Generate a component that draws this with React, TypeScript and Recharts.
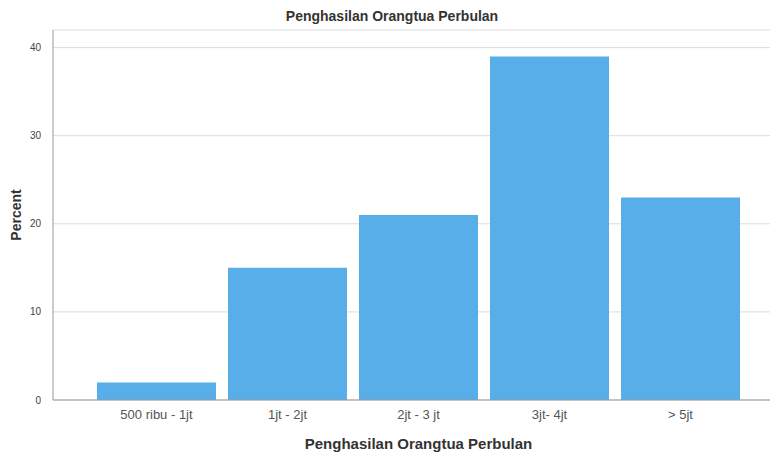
import { Bar, BarChart, CartesianGrid, XAxis, YAxis } from "recharts";

const categories = ["500 ribu - 1jt", "1jt - 2jt", "2jt - 3 jt", "3jt- 4jt", "> 5jt"];
const percents = [2, 15, 21, 39, 23];
const yTicks = [0, 10, 20, 30, 40];

const data = categories.map((name, i) => ({ name, percent: percents[i] }));

const font = "'Liberation Sans', Arial, sans-serif";

export default function App() {
  return (
    <div style={{ position: "absolute", left: 0, top: 0, width: 770, height: 456, background: "#fff", fontFamily: font }}>
      <div
        style={{
          position: "absolute",
          top: 8,
          left: 0,
          width: 784,
          textAlign: "center",
          fontSize: 14,
          fontWeight: "bold",
          color: "#333",
        }}
      >
        Penghasilan Orangtua Perbulan
      </div>
      <BarChart
        width={770}
        height={456}
        data={data}
        margin={{ top: 30, right: 0, left: 0, bottom: 0 }}
        barCategoryGap={6}
      >
        <CartesianGrid vertical={false} stroke="#dcdcdc" />
        <XAxis
          dataKey="name"
          height={56}
          padding={{ left: 38, right: 24 }}
          tickLine={false}
          stroke="#999"
          tick={{ fill: "#555", fontSize: 13, fontFamily: font }}
          tickMargin={4}
          label={{
            value: "Penghasilan Orangtua Perbulan",
            position: "insideBottom",
            offset: 7,
            dx: 7,
            style: { fill: "#333", fontSize: 15, fontWeight: "bold", fontFamily: font },
          }}
        />
        <YAxis
          width={53}
          domain={[0, 42]}
          ticks={yTicks}
          tickLine={false}
          stroke="#999"
          tick={{ fill: "#444", fontSize: 10, fontFamily: font }}
          tickMargin={6}
          label={{
            value: "Percent",
            angle: -90,
            position: "insideLeft",
            offset: 16,
            style: { fill: "#333", fontSize: 14, fontWeight: "bold", fontFamily: font, textAnchor: "middle" },
          }}
        />
        <Bar dataKey="percent" fill="#57aee8" isAnimationActive={false} />
      </BarChart>
    </div>
  );
}
